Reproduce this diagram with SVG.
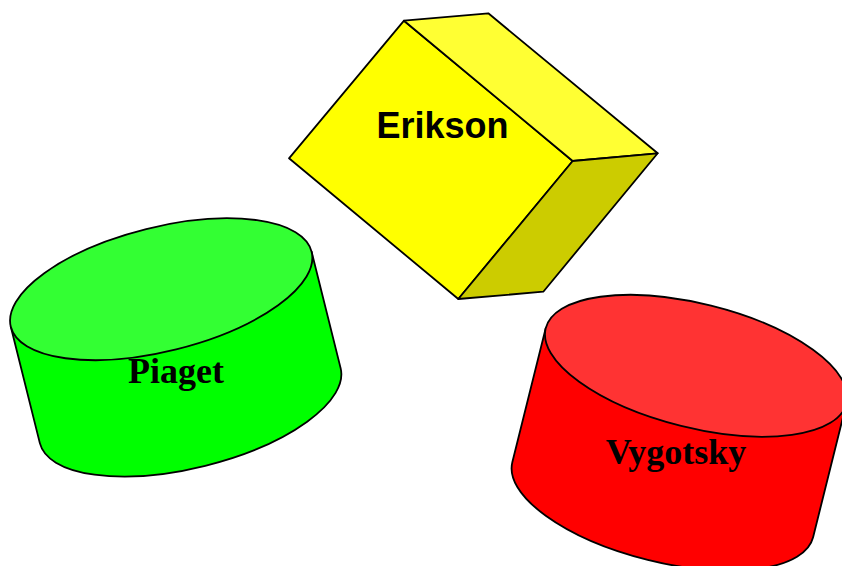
<svg xmlns="http://www.w3.org/2000/svg" width="842" height="566" viewBox="0 0 842 566">
<style>
.s{stroke:#000;stroke-width:1.8;stroke-linejoin:round}
.lbl-sans{font-family:"Liberation Sans",Arial,sans-serif;font-weight:bold;font-size:36px;text-anchor:middle;fill:#000}
.lbl-serif{font-family:"Liberation Serif","Times New Roman",serif;font-weight:bold;font-size:36px;text-anchor:middle;fill:#000}
</style>
<rect width="842" height="566" fill="#fff"/>
<g id="erikson">
<polygon class="s" fill="#FFFF00" points="404,20.7 572.7,161 458.3,299 289,158.3"/>
<polygon class="s" fill="#FFFF33" points="404,20.7 488.3,13.3 657.7,153.3 572.7,161"/>
<polygon class="s" fill="#CCCC00" points="572.7,161 657.7,153.3 543.3,291.7 458.3,299"/>
<text class="lbl-sans" x="442.5" y="137.5">Erikson</text>
</g>
<g id="piaget">
<g transform="translate(161.2,289.2) rotate(-14)">
<path class="s" fill="#00FF00" d="M-155,0 L-155,120 A155,62 0 0 0 155,120 L155,0 Z"/>
<ellipse class="s" fill="#33FF33" cx="0" cy="0" rx="155" ry="62"/>
</g>
<text class="lbl-serif" x="176" y="383">Piaget</text>
</g>
<g id="vygotsky">
<g transform="translate(696.1,365.8) rotate(14)">
<path class="s" fill="#FF0000" d="M-155,0 L-155,138 A155,62 0 0 0 155,138 L155,0 Z"/>
<ellipse class="s" fill="#FF3333" cx="0" cy="0" rx="155" ry="62"/>
</g>
<text class="lbl-serif" x="676" y="463.5">Vygotsky</text>
</g>
<g id="connectors"></g>
</svg>
